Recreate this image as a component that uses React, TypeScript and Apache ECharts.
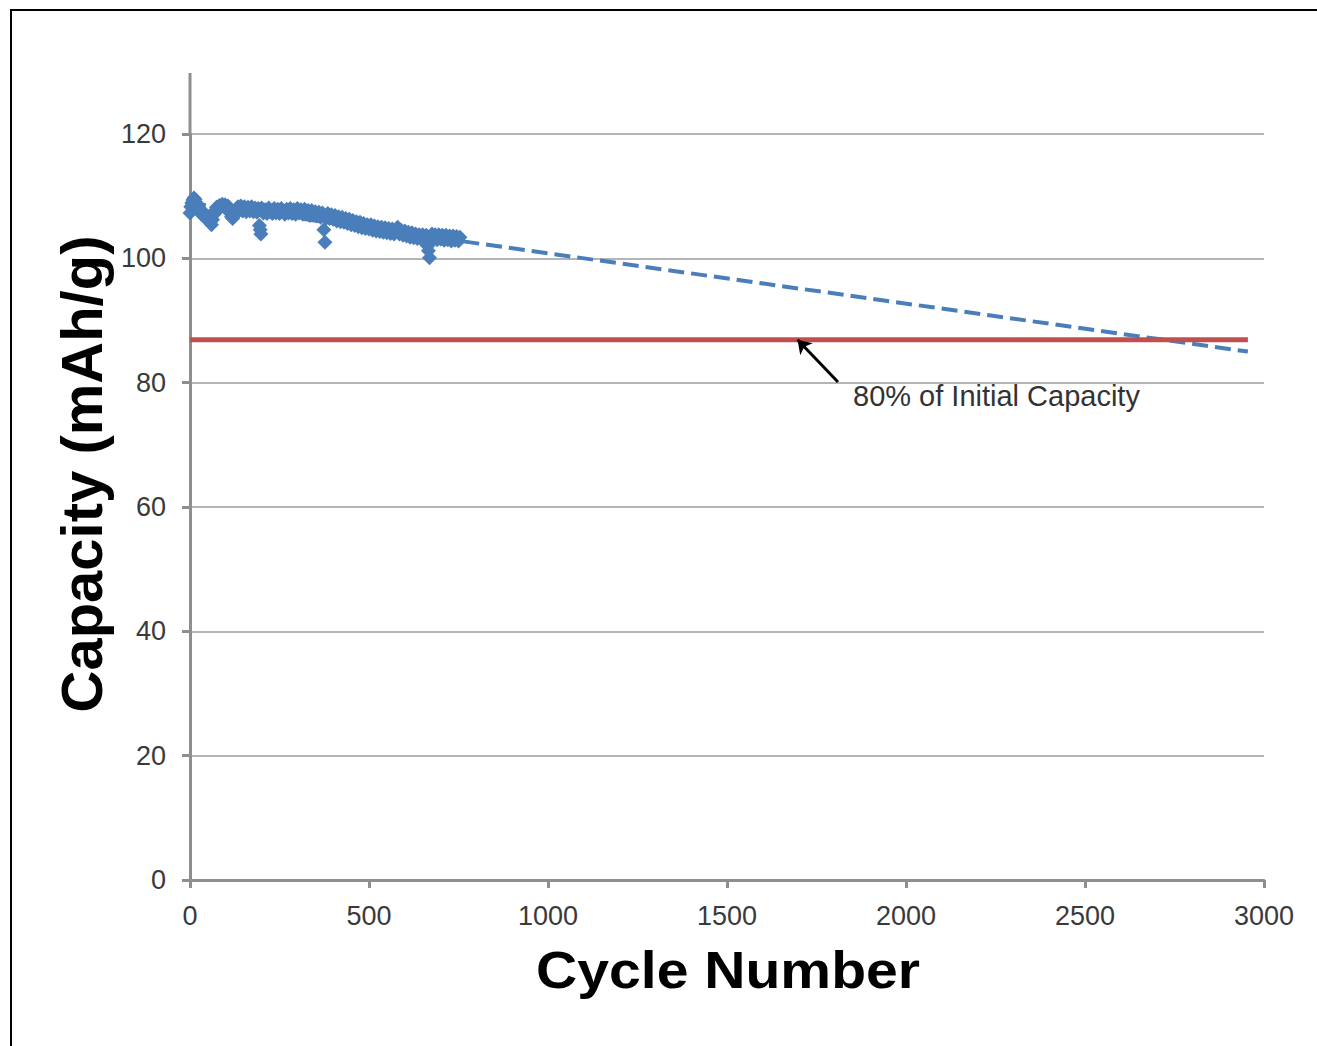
import React, { useEffect, useRef } from "react";
import * as echarts from "echarts";

const measured: [number, number][] = [
  [0, 107.3], [2, 108.3], [5, 108.9], [8, 109.4], [11, 109.7], [14, 109.5], [17, 109.0], [20, 108.5], [23, 108.1], [26, 107.6],
  [29, 107.9], [32, 107.1], [36, 107.4], [40, 106.7], [44, 107.0], [48, 106.2], [52, 106.6], [56, 105.8], [60, 105.4], [63, 106.2],
  [66, 107.0], [70, 107.7], [74, 108.2], [78, 107.8], [82, 108.5], [86, 108.2], [90, 108.7], [94, 108.4], [98, 108.6], [102, 108.1],
  [106, 108.4], [110, 107.7], [113, 107.2], [116, 106.7], [119, 106.4], [122, 106.9], [126, 107.5], [130, 107.9], [134, 108.3], [138, 107.7],
  [142, 108.4], [147, 107.6], [152, 108.3], [157, 107.5], [162, 108.2], [167, 107.6], [172, 108.3], [177, 107.5], [182, 108.1], [187, 107.4],
  [191, 108.0], [194, 105.3], [196, 104.6], [198, 103.9],
  [200, 108.1], [205, 107.3], [210, 107.8], [215, 107.2], [220, 108.1], [225, 107.5], [230, 107.2],
  [235, 108.0], [240, 107.3], [245, 107.9], [250, 107.2], [255, 108.0], [260, 107.5], [265, 107.1], [270, 107.9], [275, 107.3], [280, 108.0],
  [285, 107.2], [290, 107.8], [295, 107.1], [300, 108.0], [305, 107.3], [310, 107.8], [315, 107.1], [320, 107.9], [325, 107.2], [330, 107.7],
  [335, 106.9], [340, 107.7], [345, 107.0], [350, 107.5], [355, 106.8], [360, 107.4], [365, 106.6], [370, 107.3], [374, 104.6], [377, 102.6],
  [380, 106.5], [385, 107.2], [390, 106.4], [395, 107.0], [400, 106.3], [405, 106.9], [410, 106.0], [415, 106.7], [420, 105.9], [425, 106.6],
  [430, 105.8], [435, 106.4], [440, 105.6], [445, 106.3], [450, 105.4], [455, 106.1], [460, 105.3], [465, 105.9], [470, 105.1], [475, 105.8],
  [480, 104.9], [485, 105.6], [490, 104.8], [495, 105.4], [500, 104.7], [505, 105.4], [510, 104.5], [515, 105.2], [520, 104.4], [525, 105.1],
  [530, 104.3], [535, 105.0], [540, 104.2], [545, 104.9], [550, 104.1], [555, 104.8], [560, 104.0], [565, 104.7], [570, 103.9], [575, 104.6],
  [580, 105.0], [585, 103.9], [590, 104.5], [595, 103.7], [600, 104.4], [605, 103.6], [610, 104.2], [615, 103.4], [620, 104.1], [625, 103.3],
  [630, 103.9], [635, 103.2], [640, 103.8], [645, 103.1], [650, 103.8], [655, 103.1], [660, 103.7], [664, 102.0], [666, 101.2], [669, 100.1],
  [672, 103.1], [676, 103.9], [680, 103.1], [685, 103.8], [690, 103.0], [695, 103.8], [700, 103.1], [705, 103.7], [710, 102.9], [715, 103.7],
  [720, 103.0], [725, 103.6], [730, 102.8], [735, 103.6], [740, 102.9], [745, 103.5], [750, 102.8], [754, 103.4],
];

// Linear trend (dashed) end points
const trendLine: [number, number][] = [
  [0, 108.9],
  [2955, 85.0],
];

// 80% of initial capacity threshold
const thresholdLine: [number, number][] = [
  [0, 86.9],
  [2955, 86.9],
];

// Annotation arrow: tail -> tip (data coordinates)
const arrowTail: [number, number] = [1810, 80.1];
const arrowTip: [number, number] = [1697, 86.9];

const xTicks = { min: 0, max: 3000, interval: 500 };
const yTicks = { min: 0, max: 120, interval: 20 };

const annotationText = "80% of Initial Capacity";
const xTitle = "Cycle Number";
const yTitle = "Capacity (mAh/g)";

const FONT = "'Liberation Sans', Arial, Helvetica, sans-serif";

export default function App() {
  const ref = useRef<HTMLDivElement>(null);

  useEffect(() => {
    if (!ref.current) return;
    const chart = echarts.init(ref.current, undefined, { renderer: "svg" });
    const axisGray = "#8e8e8e";
    const labelColor = "#3a3a3a";

    chart.setOption({
      animation: false,
      backgroundColor: "#ffffff",
      grid: { left: 190, right: 53, top: 134, bottom: 166, containLabel: false },
      xAxis: {
        type: "value",
        min: xTicks.min,
        max: xTicks.max,
        interval: xTicks.interval,
        axisLine: { show: true, lineStyle: { color: axisGray, width: 3 } },
        axisTick: { show: true, length: 8, lineStyle: { color: axisGray, width: 3 } },
        splitLine: { show: false },
        axisLabel: {
          fontSize: 27,
          color: labelColor,
          margin: 22,
          fontFamily: FONT,
          formatter: (v: number) => String(v),
        },
      },
      yAxis: {
        type: "value",
        min: yTicks.min,
        max: yTicks.max,
        interval: yTicks.interval,
        axisLine: { show: true, lineStyle: { color: axisGray, width: 3 } },
        axisTick: { show: true, length: 8, lineStyle: { color: axisGray, width: 3 } },
        splitLine: { show: true, lineStyle: { color: "#b5b5b5", width: 2 } },
        axisLabel: {
          fontSize: 27,
          color: labelColor,
          margin: 24,
          fontFamily: FONT,
          formatter: (v: number) => String(v),
        },
      },
      series: [
        {
          type: "line",
          data: trendLine,
          symbol: "none",
          z: 2,
          lineStyle: { color: "#4a7ebb", width: 4, type: [16, 7] },
          silent: true,
        },
        {
          type: "line",
          data: thresholdLine,
          symbol: "none",
          z: 3,
          lineStyle: { color: "#c0504d", width: 5 },
          silent: true,
          markLine: {
            silent: true,
            symbol: ["none", "arrow"],
            symbolSize: 13,
            label: { show: false },
            lineStyle: { color: "#000000", width: 3, type: "solid" },
            data: [[{ coord: arrowTail }, { coord: arrowTip }]],
          },
        },
        {
          type: "scatter",
          data: measured,
          symbol: "diamond",
          symbolSize: 15,
          z: 4,
          itemStyle: { color: "#4a7ebb", opacity: 1 },
          silent: true,
        },
      ],
      graphic: [
        {
          type: "rect",
          shape: { x: 11, y: 10, width: 1400, height: 1100 },
          style: { fill: "none", stroke: "#000000", lineWidth: 2 },
          silent: true,
        },
        {
          type: "line",
          shape: { x1: 190, y1: 73, x2: 190, y2: 134 },
          style: { stroke: axisGray, lineWidth: 3 },
          silent: true,
        },
        {
          type: "text",
          x: 728,
          y: 970,
          scaleX: 1.12,
          style: {
            text: xTitle,
            fontSize: 51,
            fontWeight: "bold",
            fontFamily: FONT,
            fill: "#000000",
            textAlign: "center",
            textVerticalAlign: "middle",
          },
          silent: true,
        },
        {
          type: "text",
          x: 81,
          y: 474,
          rotation: Math.PI / 2,
          style: {
            text: yTitle,
            fontSize: 58,
            fontWeight: "bold",
            fontFamily: FONT,
            fill: "#000000",
            textAlign: "center",
            textVerticalAlign: "middle",
          },
          silent: true,
        },
        {
          type: "text",
          x: 853,
          y: 396,
          style: {
            text: annotationText,
            fontSize: 29,
            fontFamily: FONT,
            fill: "#333333",
            textAlign: "left",
            textVerticalAlign: "middle",
          },
          silent: true,
        },
      ],
    });

    return () => {
      chart.dispose();
    };
  }, []);

  return (
    <div
      ref={ref}
      style={{ position: "fixed", left: 0, top: 0, width: 1317, height: 1046, background: "#ffffff" }}
    />
  );
}
